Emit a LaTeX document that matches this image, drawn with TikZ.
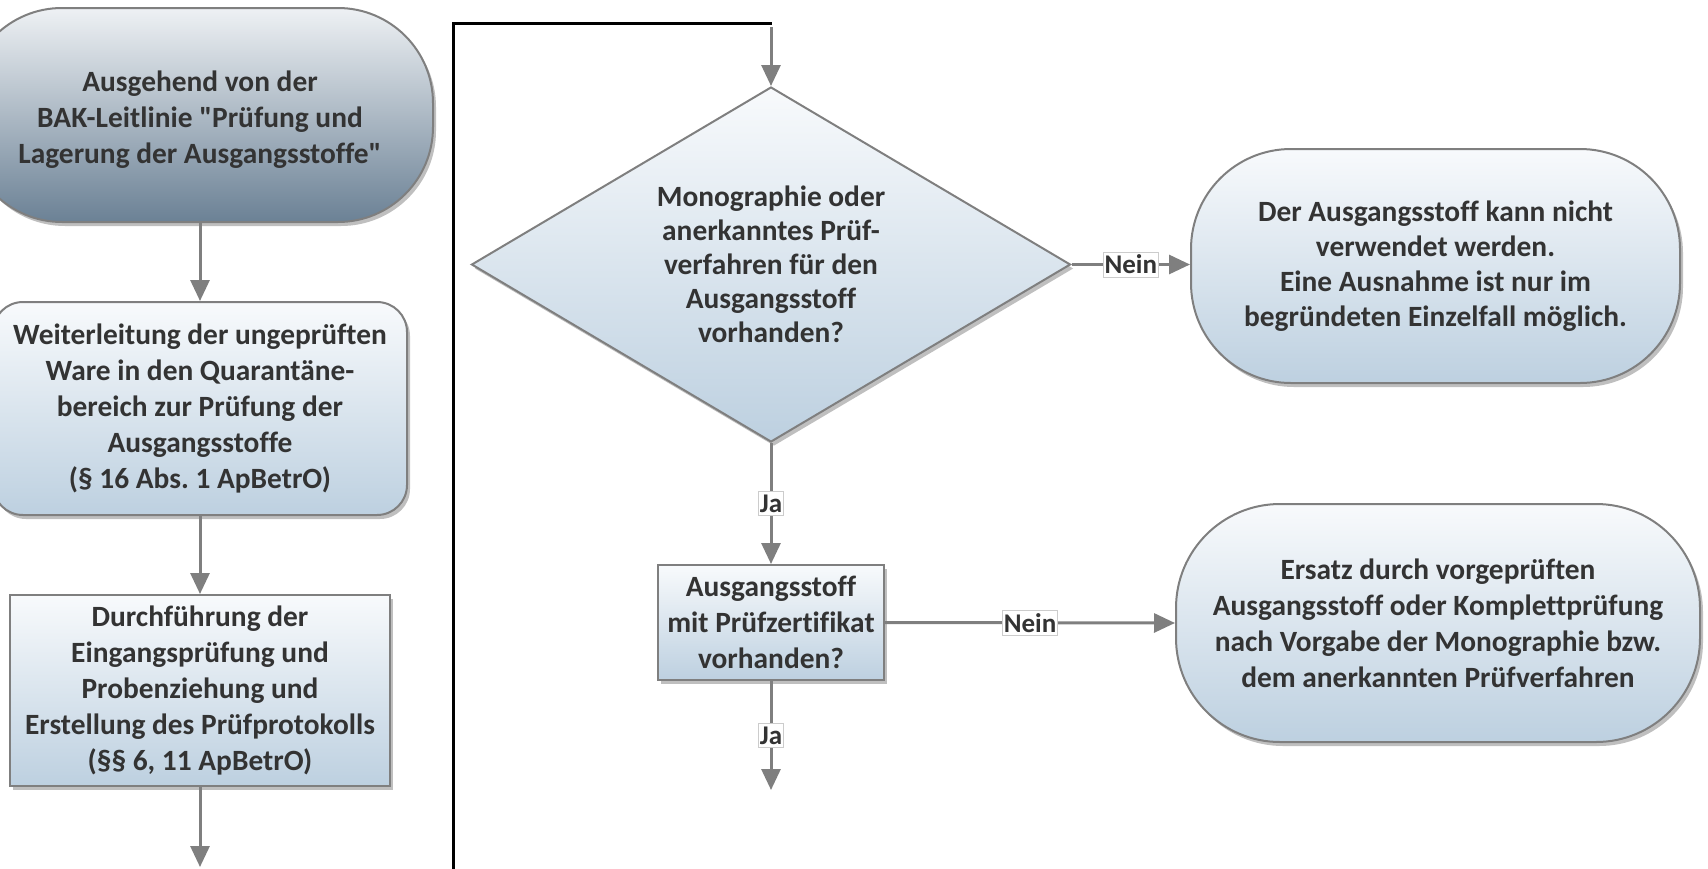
\documentclass[tikz,border=0pt]{standalone}
\usepackage{fontspec}
\setmainfont{Carlito}
\newfontfamily\cfont{Carlito}[Ligatures=NoCommon]
\usetikzlibrary{arrows.meta,shapes.geometric,shadows}
\definecolor{edgegray}{HTML}{7F7F7F}
\definecolor{txtgray}{HTML}{333333}
\definecolor{lighttop}{HTML}{F8FAFC}
\definecolor{lightbot}{HTML}{BDD0E0}
\definecolor{darktop}{HTML}{EEF1F4}
\definecolor{darkmid}{HTML}{B3BFC9}
\definecolor{darkbot}{HTML}{6B8195}
\tikzset{
  basefont/.style={font=\cfont\fontsize{29.4}{36}\selectfont\bfseries\frenchspacing, text=txtgray, align=center},
  boxshadow/.style={drop shadow={shadow xshift=3pt,shadow yshift=-4pt,fill=black,opacity=0.25}},
  lightfill/.style={shading=axis, top color=lighttop, bottom color=lightbot},
  termnode/.style={basefont, draw=edgegray, line width=2pt, lightfill, boxshadow, inner sep=0pt},
  procbox/.style={basefont, draw=edgegray, line width=2pt, lightfill, boxshadow, inner sep=0pt},
  decnode/.style={shape=diamond, draw=edgegray, line width=2pt, lightfill, boxshadow, inner sep=0pt, minimum width=599pt, minimum height=355pt},
  lbl/.style={font=\cfont\fontsize{27}{30}\selectfont\bfseries, text=txtgray, fill=white, draw=black!20, line width=0.8pt, inner xsep=1.5pt, inner ysep=3pt},
  conn/.style={draw=edgegray, line width=3pt},
  arrconn/.style={conn, -{Triangle[length=21pt,width=19pt]}},
  blackline/.style={draw=black, line width=3pt}
}
\begin{document}
\begin{tikzpicture}[x=1pt,y=-1pt]
\useasboundingbox (0,0) rectangle (1708,868);

% left column
\node[termnode, shading=axis, top color=darktop, middle color=darkmid, bottom color=darkbot,
      rounded corners=95pt, minimum width=466pt, minimum height=214pt] (t0) at (200,115) {};
\node[basefont] (t0t) at ([yshift=-5pt]t0.center)
  {Ausgehend von der\\BAK-Leitlinie "Prüfung und\\Lagerung der Ausgangsstoffe"};
\node[procbox, rounded corners=30pt, minimum width=414pt, minimum height=213pt] (b2) at (200,408.5)
  {Weiterleitung der ungeprüften\\Ware in den Quarantäne-\\bereich zur Prüfung der\\Ausgangsstoffe\\(§ 16 Abs. 1 ApBetrO)};
\node[procbox, minimum width=380pt, minimum height=191pt] (b3) at (200,690.5)
  {Durchführung der\\Eingangsprüfung und\\Probenziehung und\\Erstellung des Prüfprotokolls\\(§§ 6, 11 ApBetrO)};
\coordinate (out1) at (200,867);

\draw[arrconn] (t0) -- (b2);
\draw[arrconn] (b2) -- (b3);
\draw[arrconn] (b3) -- (out1);

% black frame line
\coordinate (bl) at (453,870);
\coordinate (tl) at (453,23);
\coordinate (tr) at (772,23);
\draw[blackline] (bl) -- (tl) -- (tr);

% right part
\node[decnode] (q1) at (771,264.5) {};
\node[basefont, font=\cfont\fontsize{29.4}{34}\selectfont\bfseries] (q1t) at (q1.center)
  {Monographie oder\\anerkanntes Prüf-\\verfahren für den\\Ausgangsstoff\\vorhanden?};
\node[procbox, minimum width=226pt, minimum height=115pt] (q2) at (771,622.5)
  {Ausgangsstoff\\mit Prüfzertifikat\\vorhanden?};
\node[termnode, font=\cfont\fontsize{29.4}{35}\selectfont\bfseries, rounded corners=100pt, minimum width=489pt, minimum height=234pt] (t1) at (1435.5,266)
  {Der Ausgangsstoff kann nicht\\verwendet werden.\\Eine Ausnahme ist nur im\\begründeten Einzelfall möglich.};
\node[termnode, rounded corners=104pt, minimum width=524pt, minimum height=238pt] (t2) at (1438,623)
  {Ersatz durch vorgeprüften\\Ausgangsstoff oder Komplettprüfung\\nach Vorgabe der Monographie bzw.\\dem anerkannten Prüfverfahren};

\coordinate (in1) at (771,27);
\coordinate (out2) at (771,790);

\draw[arrconn] (in1) -- (q1.north);
\draw[arrconn] (q1.east) -- node[lbl]{Nein} (t1.west |- q1.east);
\draw[arrconn] (q1.south) -- node[lbl]{Ja} (q2.north);
\draw[arrconn] (q2.east) -- node[lbl]{Nein} (t2.west);
\draw[arrconn] (q2.south) -- node[lbl]{Ja} (out2);
\end{tikzpicture}
\end{document}
